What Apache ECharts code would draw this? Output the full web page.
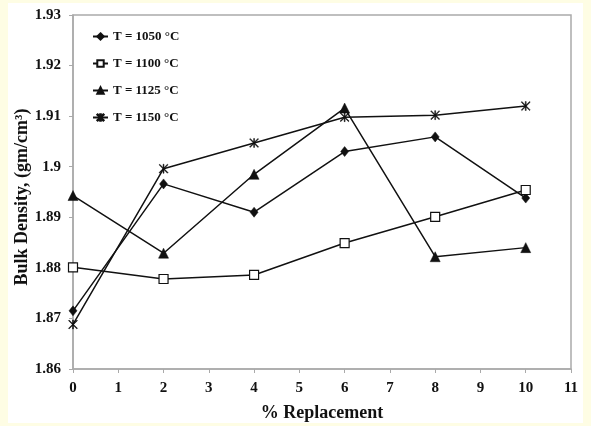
<!DOCTYPE html>
<html>
<head>
<meta charset="utf-8">
<script src="https://cdn.jsdelivr.net/npm/echarts@6/dist/echarts.min.js"></script>
<style>
html,body{margin:0;padding:0;}
#wrap{position:relative;width:591px;height:426px;background:#FEFDE4;overflow:hidden;}
#paper{position:absolute;left:8px;top:3px;width:575px;height:420px;background:#fff;}
#chart{position:absolute;left:0;top:0;width:591px;height:426px;}
</style>
</head>
<body>
<div id="wrap"><div id="paper"></div><div id="chart"></div></div>
<script>
var xValues = [0, 2, 4, 6, 8, 10];
var t1050 = [1.8715, 1.8966, 1.8910, 1.9030, 1.9059, 1.8938];
var t1100 = [1.8801, 1.8778, 1.8786, 1.8849, 1.8901, 1.8954];
var t1125 = [1.8943, 1.8829, 1.8985, 1.9116, 1.8822, 1.8840];
var t1150 = [1.8688, 1.8996, 1.9047, 1.9098, 1.9102, 1.9120];
var seriesNames = ['T = 1050 °C', 'T = 1100 °C', 'T = 1125 °C', 'T = 1150 °C'];

function pairs(ys){ return xValues.map(function(x,i){ return [x, ys[i]]; }); }

var asterisk = 'path://M9,0 H11 V20 H9 Z M0,1.4 L1.4,0 L20,18.6 L18.6,20 Z M18.6,0 L20,1.4 L1.4,20 L0,18.6 Z';

var font = '"Liberation Serif","Times New Roman",serif';

function mk(name, data, symbol, size, fill){
  return {
    name: name, type: 'line', data: pairs(data),
    symbol: symbol, symbolSize: size,
    lineStyle: {color: '#111', width: 1.5},
    itemStyle: {color: fill, borderColor: '#111', borderWidth: fill === '#fff' ? 1.2 : 0.5},
    emphasis: {disabled: true},
    animation: false
  };
}

var chart = echarts.init(document.getElementById('chart'), null, {renderer: 'canvas'});
chart.setOption({
  animation: false,
  grid: {left: 73, top: 15, right: 20, bottom: 57, show: true, borderColor: '#aaa', borderWidth: 1.5,
    backgroundColor: 'transparent', outerBoundsMode: 'none', containLabel: false},
  legend: {
    orient: 'vertical', left: 87, top: 25, itemGap: 14, itemWidth: 15, itemHeight: 8,
    data: seriesNames,
    textStyle: {fontFamily: font, fontWeight: 'bold', fontSize: 13, color: '#111'},
    selectedMode: false
  },
  xAxis: {
    type: 'value', min: 0, max: 11, interval: 1,
    name: '% Replacement', nameLocation: 'middle', nameGap: 35, nameMoveOverlap: false,
    nameTextStyle: {fontFamily: font, fontWeight: 'bold', fontSize: 18, color: '#111'},
    axisLine: {show: true, lineStyle: {color: '#aaa', width: 1.5}},
    axisTick: {show: true, inside: false, length: 4, lineStyle: {color: '#aaa'}},
    axisLabel: {fontFamily: font, fontWeight: 'bold', fontSize: 15, color: '#111', margin: 12},
    splitLine: {show: false}
  },
  yAxis: {
    type: 'value', min: 1.86, max: 1.93, interval: 0.01,
    name: 'Bulk Density, (gm/cm³)', nameLocation: 'middle', nameGap: 42, nameMoveOverlap: false,
    nameTextStyle: {fontFamily: font, fontWeight: 'bold', fontSize: 18, color: '#111', padding: [0, 10, 0, 0]},
    axisLine: {show: true, lineStyle: {color: '#aaa', width: 1.5}},
    axisTick: {show: true, inside: false, length: 4, lineStyle: {color: '#aaa'}},
    axisLabel: {fontFamily: font, fontWeight: 'bold', fontSize: 15, color: '#111', margin: 12,
      formatter: function(v){ return String(parseFloat(v.toFixed(2))); }},
    splitLine: {show: false}
  },
  series: [
    mk(seriesNames[0], t1050, 'diamond', [8, 10], '#111'),
    mk(seriesNames[1], t1100, 'rect', 9, '#fff'),
    mk(seriesNames[2], t1125, 'triangle', 10, '#111'),
    mk(seriesNames[3], t1150, asterisk, 9, '#111')
  ]
});
</script>
</body>
</html>
